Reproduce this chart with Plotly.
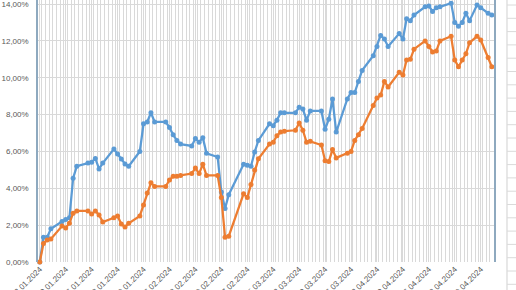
import plotly.graph_objects as go

dates = [
    "2024-01-02", "2024-01-03", "2024-01-04", "2024-01-05",
    "2024-01-08", "2024-01-09", "2024-01-10", "2024-01-11", "2024-01-12",
    "2024-01-15", "2024-01-16", "2024-01-17", "2024-01-18", "2024-01-19",
    "2024-01-22", "2024-01-23", "2024-01-24", "2024-01-25", "2024-01-26",
    "2024-01-29", "2024-01-30", "2024-01-31", "2024-02-01", "2024-02-02",
    "2024-02-05", "2024-02-06", "2024-02-07", "2024-02-08", "2024-02-09",
    "2024-02-12", "2024-02-13", "2024-02-14", "2024-02-15", "2024-02-16",
    "2024-02-19", "2024-02-20", "2024-02-21", "2024-02-22",
    "2024-02-26", "2024-02-27", "2024-02-28", "2024-02-29", "2024-03-01",
    "2024-03-04", "2024-03-05", "2024-03-06", "2024-03-07", "2024-03-08",
    "2024-03-11", "2024-03-12", "2024-03-13", "2024-03-14", "2024-03-15",
    "2024-03-18", "2024-03-19", "2024-03-20", "2024-03-21", "2024-03-22",
    "2024-03-25", "2024-03-26", "2024-03-27", "2024-03-28", "2024-03-29",
    "2024-04-01", "2024-04-02", "2024-04-03", "2024-04-04", "2024-04-05",
    "2024-04-08", "2024-04-09", "2024-04-10", "2024-04-11", "2024-04-12",
    "2024-04-15", "2024-04-16", "2024-04-17", "2024-04-18", "2024-04-19",
    "2024-04-22", "2024-04-23", "2024-04-24", "2024-04-25", "2024-04-26",
    "2024-04-27", "2024-04-29", "2024-04-30", "2024-05-02", "2024-05-03",
]

blue = [
    0.00, 1.35, 1.35, 1.80,
    2.20, 2.30, 2.40, 4.55, 5.20,
    5.37, 5.42, 5.62, 5.05, 5.37,
    6.13, 5.86, 5.59, 5.32, 5.20,
    6.00, 7.50, 7.60, 8.10, 7.60,
    7.60, 7.30, 6.90, 6.60, 6.40,
    6.30, 6.70, 6.50, 6.75, 5.90,
    5.70, 3.80, 2.90, 3.65,
    5.30, 5.25, 5.20, 5.97, 6.60,
    7.50, 7.40, 7.70, 8.10, 8.10,
    8.10, 8.40, 8.30, 7.70, 8.20,
    8.20, 7.20, 7.75, 8.85, 7.05,
    8.85, 9.20, 9.20, 9.80, 10.40,
    11.20, 11.70, 12.30, 12.10, 11.70,
    12.40, 12.10, 13.20, 13.10, 13.40,
    13.85, 13.90, 13.60, 13.80, 13.85,
    14.05, 13.00, 12.80, 13.00, 13.50,
    13.10, 13.95, 13.80, 13.50, 13.40,
]

orange = [
    0.00, 1.00, 1.20, 1.25,
    1.95, 1.85, 2.10, 2.65, 2.77,
    2.77, 2.60, 2.77, 2.55, 2.17,
    2.40, 2.50, 2.06, 1.90, 2.10,
    2.50, 3.10, 3.74, 4.30, 4.10,
    4.10, 4.45, 4.65, 4.65, 4.70,
    4.80, 5.10, 4.80, 5.30, 4.70,
    4.70, 3.50, 1.35, 1.40,
    3.70, 3.50, 4.20, 5.00, 5.60,
    6.40, 6.50, 6.85, 7.05, 7.10,
    7.15, 7.55, 7.15, 6.50, 6.55,
    6.35, 5.50, 5.45, 6.10, 5.65,
    5.90, 6.00, 6.60, 6.90, 7.25,
    8.50, 8.90, 9.06, 9.80, 9.50,
    10.30, 10.15, 10.96, 11.00, 11.55,
    12.00, 11.70, 11.40, 11.45, 12.00,
    12.25, 10.96, 10.60, 10.96, 11.30,
    11.90, 12.25, 12.05, 11.10, 10.60,
]

BLUE = "#5B9BD5"
ORANGE = "#ED7D31"
GRID = "#D9D9D9"
TXT = "#595959"
AXIS = "#8EA9BF"
FONT = "Liberation Sans Narrow, Arial Narrow, Liberation Sans, sans-serif"

fig = go.Figure()
fig.add_trace(go.Scatter(
    x=dates, y=blue, mode="lines+markers",
    line=dict(color=BLUE, width=2.25),
    marker=dict(color=BLUE, size=5),
    cliponaxis=False, showlegend=False,
))
fig.add_trace(go.Scatter(
    x=dates, y=orange, mode="lines+markers",
    line=dict(color=ORANGE, width=2.25),
    marker=dict(color=ORANGE, size=5),
    cliponaxis=False, showlegend=False,
))

# faint spreadsheet cell borders visible at the right edge of the screenshot
shapes = [dict(type="line", xref="paper", yref="paper",
               x0=1.0285, x1=1.0285, y0=-0.12, y1=1.0,
               line=dict(color="#D0D0D0", width=1))]
row_h = 13.3 / 262.0
k = 0
while 1.0 - (5 + k * 13.3) / 262.0 > -0.12:
    yp = 1.0 - (5 + k * 13.3) / 262.0
    shapes.append(dict(type="line", xref="paper", yref="paper",
                       x0=1.0285, x1=1.06, y0=yp, y1=yp,
                       line=dict(color="#DADADA", width=1)))
    k += 1

fig.update_layout(
    width=516, height=290,
    margin=dict(l=38, r=22, t=0, b=28),
    paper_bgcolor="white", plot_bgcolor="white",
    separators=", ",
    font=dict(family=FONT, size=8, color=TXT),
    shapes=shapes,
)
fig.update_xaxes(
    type="date",
    range=["2024-01-01 12:30", "2024-05-03 14:00"],
    tick0="2024-01-02", dtick=7 * 86400000,
    tickformat="%d.%m.%Y", tickangle=-45,
    ticks="", showgrid=True, gridcolor=GRID, gridwidth=1,
    minor=dict(tick0="2024-01-01 12:00", dtick=86400000, showgrid=True,
               gridcolor=GRID, gridwidth=1),
    showline=False, zeroline=False, automargin=False,
    ticklabeloverflow="allow",
    tickfont=dict(family=FONT, size=8, color=TXT),
)
fig.update_yaxes(
    range=[0, 14.22], tick0=0, dtick=2,
    tickformat=".2f", ticksuffix="%",
    showgrid=True, gridcolor=GRID, gridwidth=1,
    zeroline=False, showline=True, linecolor=AXIS, linewidth=1.5,
    mirror=True, ticks="", ticklabelstandoff=6, automargin=False,
    ticklabeloverflow="allow",
    tickfont=dict(family=FONT, size=8, color=TXT),
)

fig.write_html("out.html")
